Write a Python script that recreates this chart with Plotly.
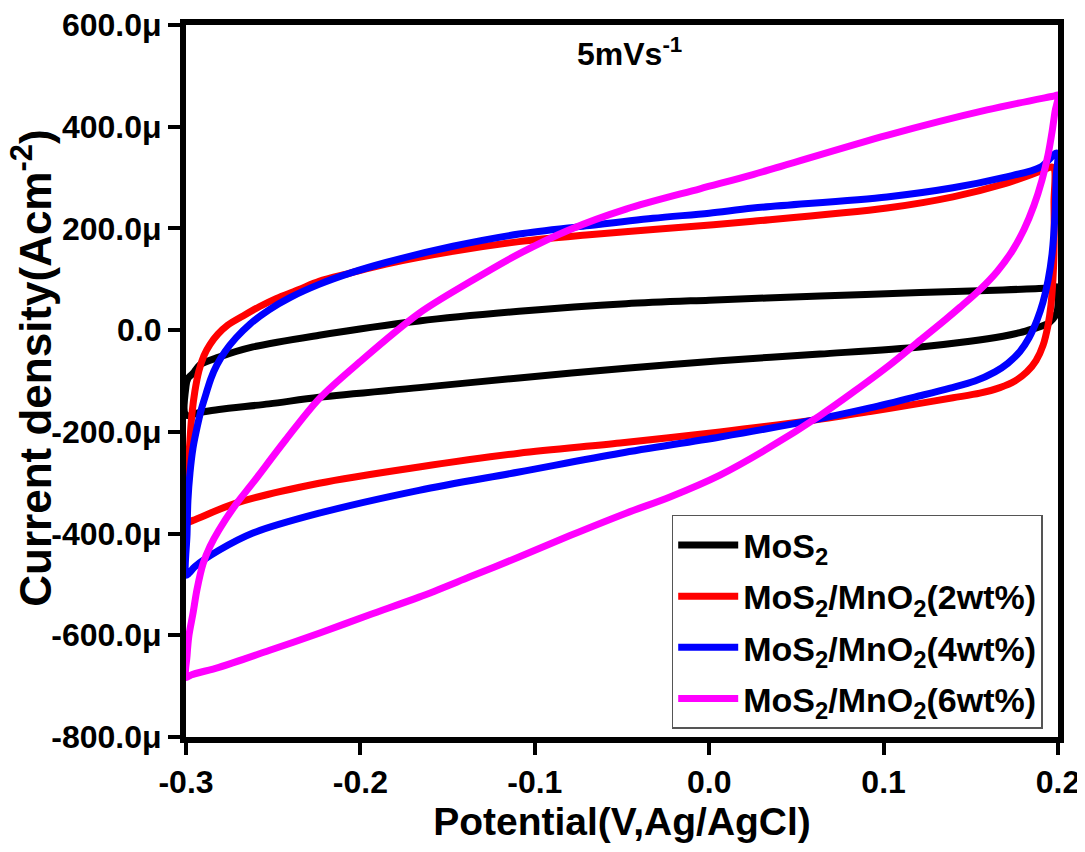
import plotly.graph_objects as go

# ---- data (potential in V, current density in µA cm^-2) ----
mos2_v = [-0.3, -0.3, -0.2989, -0.2960, -0.2920, -0.2811, -0.2616, -0.2237, -0.1664, -0.1091,
          -0.0477, 0.0, 0.0635, 0.1209, 0.1685, 0.1937, 0.1994,
          0.2, 0.2, 0.1994, 0.1971, 0.1937, 0.1860, 0.1782, 0.1685, 0.1495, 0.1209, 0.0635,
          0.0062, -0.0477, -0.1091, -0.1664, -0.2237, -0.2524, -0.2811, -0.2920, -0.3]
mos2_j = [-167, -110, -95, -85, -68, -53, -33, -10, 18, 37,
          52, 59, 67, 74, 79, 83, 85,
          75, 50, 35, 22, 12, 3, -5, -12, -22, -33, -47,
          -60, -75, -94, -113, -132, -145, -156, -162, -167]

mno2_2_v = [-0.3, -0.2994, -0.2989, -0.2977, -0.2966, -0.2949, -0.2926, -0.2897, -0.2862, -0.2817,
            -0.2760, -0.2673, -0.2580, -0.2484, -0.2352, -0.2237, -0.2060, -0.1853, -0.1469, -0.1091,
            -0.0706, -0.0322, 0.0251, 0.1019, 0.1398, 0.1685, 0.1897, 0.1971,
            0.1977, 0.1977, 0.1971, 0.1960, 0.1943, 0.1914, 0.1874, 0.1822, 0.1753, 0.1667, 0.1552,
            0.1398, 0.1209, 0.0922, 0.0595, 0.0062, -0.0511, -0.1091, -0.1664, -0.2237, -0.2713,
            -0.2960, -0.3]
mno2_2_j = [-378, -330, -280, -215, -165, -120, -80, -50, -28, -8,
            10, 28, 46, 62, 80, 96, 112, 130, 155, 174,
            187, 198, 214, 240, 262, 287, 312, 320,
            250, 150, 100, 50, 10, -30, -60, -82, -100, -113, -124,
            -133, -144, -160, -177, -200, -222, -242, -269, -301, -340,
            -374, -378]

mno2_4_v = [-0.3, -0.2994, -0.2989, -0.2977, -0.2960, -0.2937, -0.2914, -0.2885, -0.2857, -0.2822,
            -0.2776, -0.2713, -0.2633, -0.2524, -0.2404, -0.2237, -0.2060, -0.1853, -0.1469, -0.1091,
            -0.0706, -0.0322, 0.0, 0.0251, 0.1019, 0.1398, 0.1685, 0.1897, 0.1994,
            0.1989, 0.1983, 0.1966, 0.1943, 0.1914, 0.1880, 0.1834, 0.1782, 0.1713, 0.1639, 0.1524,
            0.1381, 0.1209, 0.0922, 0.0595, 0.0062, -0.0511, -0.1091, -0.1664, -0.2237,
            -0.2616, -0.2811, -0.2949, -0.2983, -0.3]
mno2_4_j = [-482, -400, -335, -280, -232, -192, -158, -125, -95, -68,
            -42, -15, 12, 40, 64, 90, 112, 133, 165, 189,
            205, 220, 230, 240, 262, 280, 300, 320, 348,
            300, 230, 150, 98, 55, 20, -15, -42, -65, -82, -100,
            -114, -129, -153, -177, -210, -242, -279, -315, -360,
            -399, -433, -465, -478, -482]

mno2_6_v = [-0.3, -0.2994, -0.2983, -0.2960, -0.2937, -0.2903, -0.2862, -0.2811, -0.2719, -0.2616,
            -0.2427, -0.2237, -0.2002, -0.1664, -0.1372, -0.1091, -0.0804, -0.0477, -0.0053, 0.0251,
            0.1019, 0.1593, 0.1971, 0.2,
            0.1983, 0.1966, 0.1943, 0.1908, 0.1862, 0.1805, 0.1736, 0.1650, 0.1553, 0.1438, 0.1352,
            0.1209, 0.1037, 0.0825, 0.0635, 0.0349, 0.0062, -0.0225, -0.0477, -0.0798, -0.1091,
            -0.1372, -0.1664, -0.1951, -0.2237, -0.2524, -0.2811, -0.2971, -0.3]
mno2_6_j = [-683, -640, -600, -557, -510, -460, -425, -393, -345, -300,
            -215, -135, -62, 33, 95, 150, 197, 238, 278, 306,
            383, 433, 460, 462,
            430, 390, 345, 295, 245, 198, 155, 115, 80, 45, 20,
            -20, -68, -122, -168, -230, -285, -328, -360, -404, -446,
            -485, -525, -560, -596, -630, -663, -678, -683]

series_names = ["MoS<sub>2</sub>",
                "MoS<sub>2</sub>/MnO<sub>2</sub>(2wt%)",
                "MoS<sub>2</sub>/MnO<sub>2</sub>(4wt%)",
                "MoS<sub>2</sub>/MnO<sub>2</sub>(6wt%)"]
series_colors = ["#000000", "#FF0000", "#0000FF", "#FF00FF"]

x_ticks = [-0.3, -0.2, -0.1, 0.0, 0.1, 0.2]
x_ticklabels = ["-0.3", "-0.2", "-0.1", "0.0", "0.1", "0.2"]
y_ticks = [600, 400, 200, 0, -200, -400, -600, -800]
y_ticklabels = ["600.0μ", "400.0μ", "200.0μ", "0.0", "-200.0μ", "-400.0μ", "-600.0μ", "-800.0μ"]

FONT = "Liberation Sans, Arial, sans-serif"

fig = go.Figure()
data = [(mos2_v, mos2_j), (mno2_2_v, mno2_2_j), (mno2_4_v, mno2_4_j), (mno2_6_v, mno2_6_j)]
for i, ((xv, yv), name, col) in enumerate(zip(data, series_names, series_colors)):
    fig.add_trace(go.Scatter(x=xv, y=yv, mode="lines", name=name, legendgroup=f"g{i}",
                             line=dict(color=col, width=7, shape="spline", smoothing=0.9)))

# page body has an 8px default margin; figure is sized/offset to compensate
fig.update_layout(
    width=1077, height=844,
    margin=dict(l=178, r=27, t=17, b=115),
    paper_bgcolor="white", plot_bgcolor="white",
    font=dict(family=FONT, color="black"),
    showlegend=True,
    legend=dict(x=0.557, y=0.312, xanchor="left", yanchor="top",
                bordercolor="#555", borderwidth=1.5, bgcolor="white",
                font=dict(family=FONT, size=34, weight="bold", color="black"),
                tracegroupgap=4, itemwidth=60),
    annotations=[
        dict(text="5mVs<sup>-1</sup>", x=0.509, y=0.962, xref="paper", yref="paper",
             xanchor="center", yanchor="middle", showarrow=False,
             font=dict(family=FONT, size=32, weight="bold", color="black")),
        dict(text="Current density(Acm<sup>-2</sup>)", x=-0.211, y=0.518, xref="paper", yref="paper",
             xanchor="left", yanchor="middle", textangle=-90, showarrow=False,
             font=dict(family=FONT, size=44, weight="bold", color="black")),
    ],
)
fig.update_xaxes(range=[-0.3, 0.2], tickvals=x_ticks, ticktext=x_ticklabels,
                 showline=True, linecolor="black", linewidth=6, mirror=True,
                 ticks="outside", ticklen=12, tickwidth=4, tickcolor="black",
                 showgrid=False, zeroline=False, automargin=False, ticklabeloverflow="allow",
                 tickfont=dict(family=FONT, size=32, weight="bold"),
                 title=dict(text="Potential(V,Ag/AgCl)", standoff=0,
                            font=dict(family=FONT, size=39, weight="bold")))
fig.update_yaxes(range=[-800, 600], tickvals=y_ticks, ticktext=y_ticklabels,
                 showline=True, linecolor="black", linewidth=6, mirror=True,
                 ticks="outside", ticklen=12, tickwidth=4, tickcolor="black",
                 showgrid=False, zeroline=False, automargin=False, ticklabeloverflow="allow",
                 tickfont=dict(family=FONT, size=32, weight="bold"))

fig.write_html("out.html")
